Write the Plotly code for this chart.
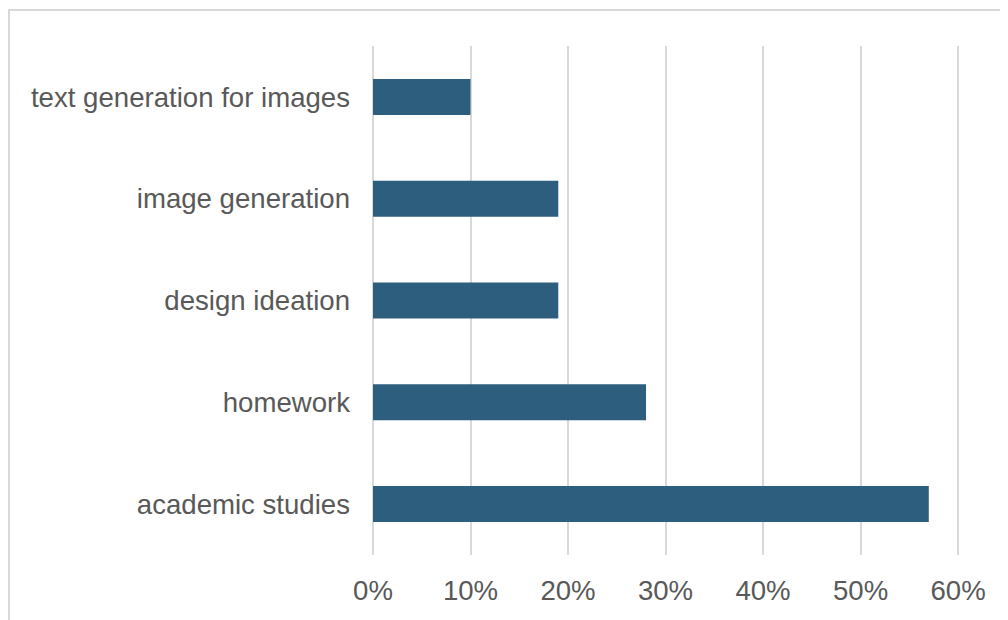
import plotly.graph_objects as go

categories = ["academic studies", "homework", "design ideation", "image generation", "text generation for images"]
values = [57, 28, 19, 19, 10]
tick_vals = [0, 10, 20, 30, 40, 50, 60]
tick_text = ["0%", "10%", "20%", "30%", "40%", "50%", "60%"]

BAR = "#2e5e7e"
GRID = "#d9d9d9"
TXT = "#595959"
FONT = "Liberation Sans, Arial, sans-serif"
FS = 27.6

fig = go.Figure(go.Bar(
    x=values, y=categories, orientation="h",
    marker=dict(color=BAR, line=dict(width=0)),
    width=0.354,
))

fig.update_layout(
    width=1000, height=612,
    margin=dict(l=365, r=40, t=38, b=65, pad=0),
    paper_bgcolor="white", plot_bgcolor="white",
    showlegend=False,
    font=dict(family=FONT, size=FS, color=TXT),
    xaxis=dict(
        range=[0, 61.02], tickvals=tick_vals, ticktext=tick_text,
        showgrid=True, gridcolor=GRID, gridwidth=2,
        zeroline=True, zerolinecolor=GRID, zerolinewidth=2,
        showline=False, ticks="", ticklabelstandoff=16,
        tickfont=dict(family=FONT, size=FS, color=TXT), fixedrange=True,
    ),
    yaxis=dict(
        range=[-0.5, 4.5], showgrid=False, zeroline=False, showline=False,
        ticks="", ticklabelstandoff=22,
        tickfont=dict(family=FONT, size=FS, color=TXT), fixedrange=True,
    ),
    shapes=[dict(
        type="rect", xref="paper", yref="paper",
        x0=(1 - 365) / 595, x1=1.3, y0=-0.3, y1=(547 - 2) / 509,
        line=dict(color=GRID, width=2), fillcolor="rgba(0,0,0,0)", layer="below",
    )],
)

fig.write_html("out.html")
